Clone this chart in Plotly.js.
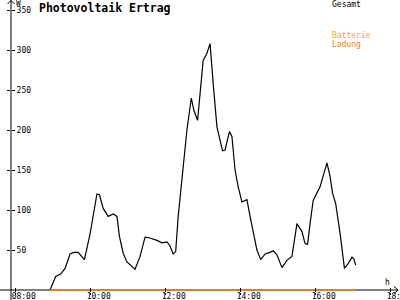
<!DOCTYPE html>
<html>
<head>
<meta charset="utf-8">
<script src="https://cdn.plot.ly/plotly-3.0.1.min.js"></script>
<style>html,body{margin:0;padding:0;background:#fff;}#chart{width:400px;height:300px;}</style>
</head>
<body>
<div id="chart"></div>
<script>
// Gesamt (W) over the day
const gesamtTimes = ["08:55","09:04","09:12","09:19","09:27","09:33","09:40","09:50","09:59","10:10",
  "10:14","10:20","10:28","10:36","10:42","10:46","10:52","10:58","11:11","11:19",
  "11:27","11:35","11:46","11:54","12:02","12:07","12:12","12:16","12:20","12:28",
  "12:34","12:41","12:45","12:51","12:55","13:00","13:06","13:11","13:16","13:22",
  "13:31","13:35","13:42","13:46","13:51","13:56","14:02","14:10","14:15","14:20",
  "14:26","14:32","14:39","14:47","14:52","14:58","15:06","15:14","15:22","15:30",
  "15:38","15:43","15:47","15:51","15:56","16:07","16:18","16:23","16:27","16:32",
  "16:39","16:46","16:52","16:58","17:01","17:04"];
const gesamtValues = [0,17,20,27,45,47,47,38,70,120,
  119,102,92,95,92,67,46,35,26,42,
  66,65,62,59,60,55,45,48,92,150,
  200,240,225,212,250,287,296,308,258,204,
  174,175,198,192,150,129,110,113,92,71,
  50,38,45,47,49,44,28,37,42,83,
  73,58,57,83,112,129,159,142,121,108,
  71,27,33,41,39,31];
// Batterie Ladung
const ladungTimes = ["08:55","17:04"];
const ladungValues = [0,0];
// ticks
const xTickHours = [8,10,12,14,16,18];
const xTickLabels = ["08:00","10:00","12:00","14:00","16:00","18:00"];
const yTickVals = [50,100,150,200,250,300,350];
const yTickLabels = ["50","100","150","200","250","300","350"];

function toHours(s){const p=s.split(":");return +p[0]+(+p[1])/60;}

const W=400,H=300,ML=11,MR=2,MT=2,MB=8;
const PW=W-ML-MR, PH=H-MT-MB;   // zero line sits 2px above plot bottom (y=290)
const px=(x)=>(x-ML)/PW, py=(y)=>(H-MB-y)/PH;
const mono="DejaVu Sans Mono, monospace";

const traces=[
  {x:gesamtTimes.map(toHours),y:gesamtValues,type:'scatter',mode:'lines',
   line:{color:'#000000',width:1.2},hoverinfo:'skip'},
  {x:ladungTimes.map(toHours),y:ladungValues,type:'scatter',mode:'lines',xaxis:'x2',yaxis:'y2',
   line:{color:'#FF8000',width:1.5},hoverinfo:'skip'}
];

const layout={
  width:W,height:H,margin:{l:ML,r:MR,t:MT,b:MB,pad:0},
  paper_bgcolor:'#fff',plot_bgcolor:'#fff',showlegend:false,
  font:{family:mono,size:8,color:'#000'},
  title:{text:'<b>Photovoltaik Ertrag</b>',xref:'container',yref:'container',x:39/W,xanchor:'left',
         y:1-7.5/H,yanchor:'middle',font:{family:mono,size:11.5,color:'#000'}},
  xaxis:{range:[7.875,7.875+PW/37.5],showgrid:false,zeroline:false,showline:false,
         tickmode:'array',tickvals:xTickHours,ticktext:xTickLabels,ticks:'outside',ticklen:2,
         tickcolor:'#000',tickwidth:1,tickfont:{family:mono,size:8,color:'#000'},
         ticklabelshift:8,ticklabelstandoff:-6,ticklabeloverflow:'allow'},
  xaxis2:{overlaying:'x',matches:'x',anchor:'y',showgrid:false,zeroline:false,showline:false,
         tickmode:'array',tickvals:xTickHours,ticks:'inside',ticklen:4,tickcolor:'#000',tickwidth:1,showticklabels:false},
  yaxis:{range:[-2/0.8,288/0.8],showgrid:false,zeroline:false,showline:false,
         tickmode:'array',tickvals:yTickVals,ticks:'outside',ticklen:3,
         tickcolor:'#000',tickwidth:1,showticklabels:false},
  yaxis2:{overlaying:'y',matches:'y',anchor:'free',position:0,side:'right',showgrid:false,zeroline:false,showline:false,
         tickmode:'array',tickvals:yTickVals,ticktext:yTickLabels,ticks:'outside',ticklen:3,tickcolor:'#000',tickwidth:1,
         showticklabels:true,tickfont:{family:mono,size:8,color:'#000'}},
  shapes:[
    {type:'line',layer:'below',xref:'paper',yref:'paper',x0:px(0),x1:px(398),y0:py(290),y1:py(290),line:{color:'#000',width:1}},
    {type:'path',layer:'below',xref:'paper',yref:'paper',path:`M${px(394)},${py(286.5)} L${px(398)},${py(290)} L${px(394)},${py(293.5)}`,line:{color:'#000',width:1}},
    {type:'line',layer:'below',xref:'paper',yref:'paper',x0:px(11),x1:px(11),y0:py(300),y1:py(0),line:{color:'#000',width:1}},
    {type:'path',layer:'below',xref:'paper',yref:'paper',path:`M${px(7.5)},${py(4)} L${px(11)},${py(0.5)} L${px(14.5)},${py(4)}`,line:{color:'#000',width:1}}
  ],
  annotations:[
    {text:'W',xref:'paper',yref:'paper',x:px(14),y:py(3.5),xanchor:'left',yanchor:'middle',showarrow:false,font:{family:mono,size:8,color:'#000'}},
    {text:'h',xref:'paper',yref:'paper',x:px(387),y:py(282),xanchor:'center',yanchor:'middle',showarrow:false,font:{family:mono,size:8,color:'#000'}},
    {text:'Gesamt',xref:'paper',yref:'paper',x:px(330),y:py(4.5),xanchor:'left',yanchor:'middle',showarrow:false,font:{family:mono,size:8,color:'#000'}},
    {text:'Batterie',xref:'paper',yref:'paper',x:px(330),y:py(35.5),xanchor:'left',yanchor:'middle',showarrow:false,font:{family:mono,size:8,color:'#FFAA00'}},
    {text:'Ladung',xref:'paper',yref:'paper',x:px(330),y:py(44.5),xanchor:'left',yanchor:'middle',showarrow:false,font:{family:mono,size:8,color:'#FF8000'}}
  ]
};
Plotly.newPlot('chart',traces,layout,{staticPlot:true,displayModeBar:false});
</script>
</body>
</html>
